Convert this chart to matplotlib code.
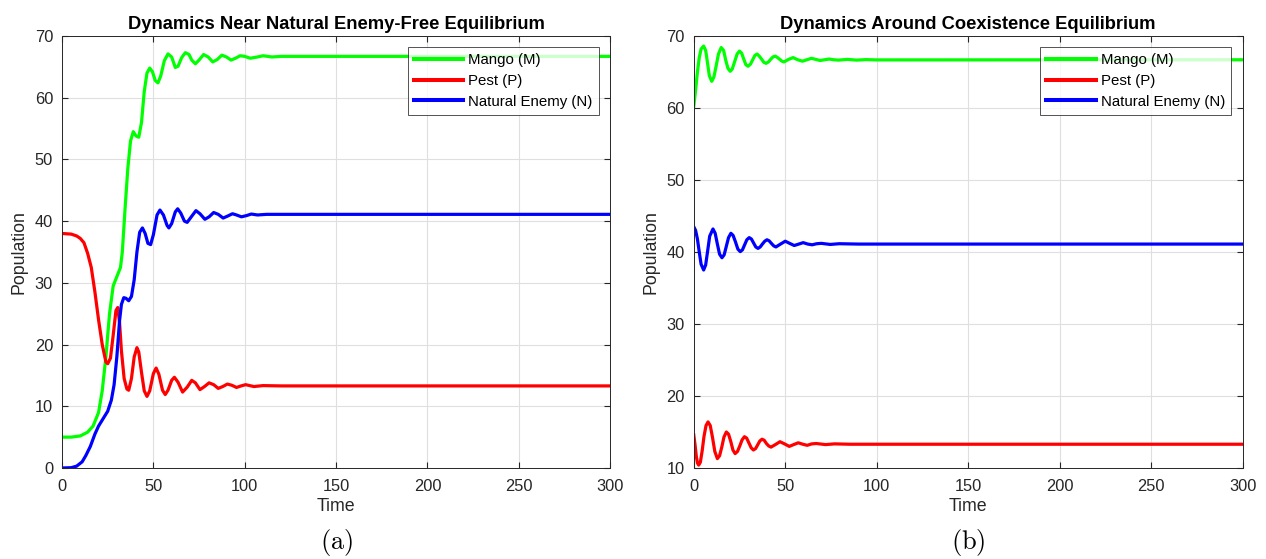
import matplotlib.pyplot as plt

plt.rcParams['font.family'] = ['Liberation Sans', 'DejaVu Sans']
plt.rcParams['mathtext.fontset'] = 'cm'

# (a) near natural enemy-free equilibrium
t_mango_a = [0, 5, 10, 14, 17, 20, 22, 24, 26, 28, 30, 32, 33, 34.5, 36, 37.5, 39, 40.5, 42,
             43.5, 45, 46.5, 48, 49.5, 51, 52.5, 54, 56, 58, 60, 62, 63.5, 65.5, 67.5, 69.5,
             71, 73, 75, 77.5, 80, 82.5, 85, 87.5, 90, 92.5, 95, 97.5, 100, 103, 107, 110,
             115, 120, 300]
mango_a = [5.0, 5.0, 5.2, 5.8, 6.8, 9.0, 12.5, 18, 25, 29.5, 31, 32.5, 35, 42, 48.5, 53, 54.5,
           53.8, 53.6, 56, 61, 64, 64.8, 64.2, 62.8, 62.4, 63.5, 66, 67.1, 66.6, 64.9, 65.1,
           66.5, 67.3, 67, 66.1, 65.5, 66.1, 67, 66.6, 65.8, 66.2, 66.9, 66.6, 66.1, 66.4,
           66.8, 66.7, 66.4, 66.6, 66.8, 66.6, 66.7, 66.7]

t_pest_a = [0, 5, 8, 10, 12, 14, 16, 18, 20, 22, 24, 25, 26.5, 28, 29.5, 30.5, 31.5, 32.5, 34,
            35.5, 36.5, 38, 39.5, 41, 42, 43.5, 45, 46.5, 48, 50, 51.5, 53, 55, 56.5, 58, 60,
            61.5, 63.5, 66, 68.5, 71, 73, 75.5, 78, 80.5, 83, 85.5, 88, 90.5, 93, 95.5, 98,
            100.5, 105, 110, 120, 300]
pest_a = [38, 37.9, 37.6, 37.2, 36.5, 34.8, 32.5, 28.5, 24, 20, 17.2, 16.9, 17.8, 21.5, 25.5,
          26, 23.5, 19, 14.5, 12.8, 12.6, 14.5, 18, 19.5, 18.8, 15.5, 12.5, 11.6, 12.5, 15.3,
          16.2, 15.2, 12.6, 11.9, 12.6, 14.2, 14.7, 13.9, 12.3, 13.1, 14.2, 13.8, 12.7, 13.2,
          13.8, 13.5, 12.9, 13.2, 13.6, 13.4, 13.05, 13.3, 13.5, 13.2, 13.35, 13.3, 13.3]

t_enemy_a = [0, 5, 8, 11, 13, 15.5, 18, 20, 22.5, 25, 27, 28.5, 30, 31.5, 32.5, 33.8, 35, 36.5,
             38, 39.5, 41, 42.5, 44, 45.5, 47, 48.5, 50, 52, 53.6, 55.5, 57.5, 58.5, 60, 62,
             63.3, 65, 67, 68.5, 70.5, 73.3, 75.5, 78.2, 80.5, 83, 85.5, 88.2, 90.5, 93.3,
             95.5, 98.2, 101, 103.6, 107, 112, 300]
enemy_a = [0, 0.05, 0.3, 1, 2, 3.5, 5.5, 6.8, 8, 9.2, 11, 13.5, 18, 23.9, 26.5, 27.6, 27.5,
           27.1, 27.8, 30.5, 35, 38.2, 38.9, 38, 36.4, 36.2, 37.8, 41, 41.8, 41, 39.3, 38.9,
           39.6, 41.5, 42, 41.3, 40, 39.8, 40.6, 41.7, 41.2, 40.3, 40.7, 41.4, 41.1, 40.5,
           40.8, 41.2, 41, 40.7, 40.9, 41.15, 41.0, 41.1, 41.1]

# (b) around coexistence equilibrium
t_mango_b = [0, 1, 2, 3, 4, 5.4, 6.5, 7.5, 8.5, 9.8, 11, 12.2, 13.5, 15, 16.3, 17.5, 18.7, 19.9,
             21, 22.3, 23.7, 25, 26.2, 27.3, 28.5, 29.7, 31, 32.2, 33.4, 34.6, 35.8, 37, 38.3,
             39.5, 40.8, 42, 43.3, 44.6, 45.8, 47, 48.2, 49.3, 51.8, 54.3, 56.8, 59.4, 61.8,
             64.3, 66.7, 69, 71.5, 74, 76.5, 79, 84, 89, 94, 100, 300]
mango_b = [60.2, 62.5, 65, 67, 68.2, 68.6, 68, 66.3, 64.5, 63.7, 64.3, 65.8, 67.5, 68.4, 68,
           66.6, 65.5, 65.1, 65.4, 66.4, 67.5, 67.9, 67.6, 66.8, 66.0, 65.8, 66.1, 66.7, 67.3,
           67.5, 67.2, 66.8, 66.35, 66.2, 66.4, 66.75, 67.1, 67.2, 67.0, 66.75, 66.5, 66.4,
           66.75, 67.0, 66.7, 66.5, 66.7, 66.9, 66.75, 66.6, 66.7, 66.8, 66.7, 66.65, 66.75,
           66.65, 66.72, 66.68, 66.7]

t_pest_b = [0, 0.7, 1.4, 2.0, 2.7, 3.6, 4.6, 5.6, 6.7, 7.8, 9, 10.2, 11.5, 12.9, 14.1, 15.3,
            16.5, 17.8, 19, 20.2, 21.4, 22.6, 23.9, 25.2, 26.4, 27.7, 28.9, 30.1, 31.4, 32.6,
            33.8, 35, 36.1, 37.3, 38.5, 39.7, 41, 42.2, 44.6, 47.1, 49.6, 52.2, 54.6, 57.1,
            59.6, 62, 64.5, 67, 72, 77, 85, 300]
pest_b = [14.6, 13.2, 11.6, 10.7, 10.4, 10.8, 12.4, 14.4, 15.9, 16.4, 15.9, 14.3, 12.3, 11.3,
          11.7, 12.9, 14.3, 15.0, 14.7, 13.7, 12.5, 12.0, 12.3, 13.1, 13.9, 14.35, 14.15, 13.5,
          12.8, 12.5, 12.7, 13.25, 13.75, 14.0, 13.85, 13.4, 13.05, 12.9, 13.25, 13.65, 13.35,
          13.0, 13.25, 13.5, 13.3, 13.15, 13.35, 13.4, 13.25, 13.35, 13.3, 13.3]

t_enemy_b = [0, 1, 2, 3, 4, 5.4, 6.5, 7.5, 8.7, 10.5, 11.7, 12.9, 14.1, 15.4, 16.6, 17.8, 19,
             20.3, 21.5, 22.8, 24.1, 25.4, 26.6, 27.8, 29, 30.3, 31.5, 32.7, 33.9, 35.1, 36.3,
             37.5, 38.8, 40, 41.2, 42.4, 43.7, 44.9, 47.4, 50, 52.4, 54.9, 57.4, 59.8, 62.3,
             64.7, 67.2, 69.7, 74.6, 79.5, 90, 300]
enemy_b = [43.5, 43.0, 41.8, 40, 38.3, 37.5, 38.2, 40, 42.2, 43.2, 42.6, 41.1, 39.7, 39.2, 39.6,
           40.8, 42, 42.6, 42.3, 41.4, 40.4, 40.05, 40.3, 41, 41.7, 42.0, 41.8, 41.25, 40.7,
           40.5, 40.7, 41.1, 41.5, 41.7, 41.55, 41.2, 40.85, 40.7, 41.1, 41.5, 41.2, 40.9, 41.1,
           41.3, 41.1, 41.0, 41.15, 41.2, 41.05, 41.15, 41.1, 41.1]

labels = ['Mango (M)', 'Pest (P)', 'Natural Enemy (N)']
colors = ['#00ff00', '#ff0000', '#0000ff']

fig = plt.figure(figsize=(12.66, 5.59), dpi=100)
ax1 = fig.add_axes([0.049, 0.1628, 0.4329, 0.7728])
ax2 = fig.add_axes([0.548, 0.1628, 0.4336, 0.7728])

panels = [
    (ax1, [(t_mango_a, mango_a), (t_pest_a, pest_a), (t_enemy_a, enemy_a)],
     'Dynamics Near Natural Enemy-Free Equilibrium', (0, 70), '(a)'),
    (ax2, [(t_mango_b, mango_b), (t_pest_b, pest_b), (t_enemy_b, enemy_b)],
     'Dynamics Around Coexistence Equilibrium', (10, 70), '(b)'),
]

for ax, series, title, ylim, tag in panels:
    for (t, y), lab, c in zip(series, labels, colors):
        ax.plot(t, y, color=c, lw=2.3, label=lab, solid_joinstyle='round')
    ax.set_xlim(0, 300)
    ax.set_ylim(*ylim)
    ax.set_xticks(range(0, 301, 50))
    ax.grid(True, color='#dfdfdf', lw=0.8)
    ax.set_axisbelow(True)
    ax.tick_params(direction='in', top=True, right=True, labelsize=11.8,
                   colors='#262626', length=4)
    ax.tick_params(axis='x', pad=8)
    ax.tick_params(axis='y', pad=6.5)
    for s in ax.spines.values():
        s.set_color('#262626')
        s.set_linewidth(0.7)
    ax.set_title(title, fontsize=13.2, fontweight='bold', pad=5)
    ax.set_xlabel('Time', fontsize=12.8, color='#262626', labelpad=3)
    ax.set_ylabel('Population', fontsize=12.8, color='#262626', labelpad=5)
    leg = ax.legend(loc='upper right', fontsize=10.8, handlelength=3.3, frameon=True,
                    fancybox=False, edgecolor='#262626', borderpad=0.4,
                    labelspacing=0.45, handletextpad=0.35, borderaxespad=0.75)
    leg.get_frame().set_linewidth(0.7)
    for line in leg.get_lines():
        line.set_linewidth(2.9)
    ax.text(0.5, -0.173, r'$\mathrm{' + tag + '}$', transform=ax.transAxes,
            ha='center', va='center', fontsize=19)

fig.savefig('out.png', dpi=100)
